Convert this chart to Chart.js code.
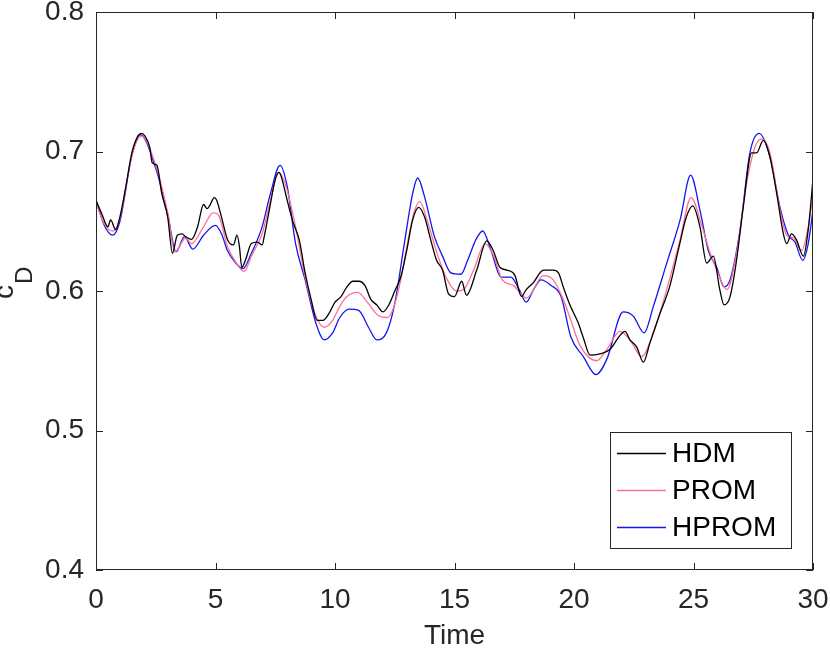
<!DOCTYPE html>
<html>
<head>
<meta charset="utf-8">
<script src="https://cdn.jsdelivr.net/npm/chart.js@4/dist/chart.umd.min.js"></script>
<style>
html,body{margin:0;padding:0;background:#fff;}
#wrap{width:830px;height:650px;position:relative;}
</style>
</head>
<body>
<div id="wrap"><canvas id="c" width="830" height="650"></canvas></div>
<script>
// ---- data ----
const seriesNames = ['HDM', 'PROM', 'HPROM'];
const xTicks = [0, 5, 10, 15, 20, 25, 30];
const yTicks = [0.4, 0.5, 0.6, 0.7, 0.8];

const hdmT = [0,0.25,0.5,0.61,0.82,1.0,1.25,1.5,1.75,1.9,2.05,2.25,2.35,2.55,2.75,3.0,3.2,3.4,3.6,3.75,4.0,4.25,4.5,4.65,4.75,4.95,5.05,5.25,5.5,5.75,5.9,6.0,6.1,6.25,6.5,6.75,6.95,7.05,7.25,7.5,7.65,7.75,8.0,8.25,8.5,8.75,9.0,9.25,9.5,9.75,10.0,10.25,10.5,10.75,11.0,11.25,11.5,11.75,12.0,12.25,12.5,12.75,13.0,13.25,13.5,13.75,14.0,14.25,14.5,14.75,15.0,15.3,15.5,15.93,16.35,16.62,16.9,17.18,17.53,17.8,18.0,18.3,18.72,19.13,19.35,19.55,19.83,20.18,20.4,20.67,21.09,21.5,21.92,22.13,22.34,22.62,22.9,23.18,23.6,24.0,24.4,24.7,24.97,25.27,25.55,25.83,26.1,26.28,26.53,26.8,27.08,27.43,27.64,27.92,28.2,28.48,28.76,28.9,29.1,29.3,29.6,29.8,30.0];
const hdmV = [0.665,0.655,0.646,0.651,0.644,0.653,0.675,0.699,0.711,0.713,0.711,0.703,0.692,0.690,0.670,0.653,0.627,0.640,0.641,0.639,0.637,0.646,0.662,0.659,0.661,0.667,0.665,0.653,0.637,0.633,0.640,0.632,0.617,0.622,0.634,0.635,0.633,0.640,0.658,0.680,0.685,0.682,0.665,0.649,0.637,0.613,0.594,0.579,0.579,0.584,0.592,0.596,0.603,0.607,0.607,0.604,0.594,0.590,0.585,0.590,0.600,0.610,0.629,0.651,0.660,0.653,0.637,0.622,0.615,0.598,0.596,0.607,0.597,0.615,0.636,0.629,0.617,0.615,0.611,0.596,0.601,0.606,0.615,0.615,0.613,0.603,0.590,0.577,0.566,0.554,0.555,0.558,0.568,0.571,0.565,0.560,0.549,0.563,0.584,0.603,0.632,0.653,0.661,0.646,0.620,0.625,0.601,0.590,0.596,0.622,0.660,0.699,0.699,0.708,0.696,0.670,0.641,0.634,0.641,0.637,0.625,0.644,0.680];

const promT = [0,0.35,0.7,1.0,1.5,1.9,2.5,3.0,3.3,3.75,4.0,4.5,4.9,5.1,5.5,5.8,6.2,6.5,6.95,7.3,7.65,7.95,8.35,8.75,9.2,9.55,9.9,10.2,10.5,10.95,11.35,11.77,12.2,12.47,12.75,13.03,13.3,13.55,13.85,14.27,14.7,15.1,15.38,15.8,16.28,16.62,17.0,17.46,18.02,18.72,19.13,19.55,19.83,20.25,20.95,21.37,21.92,22.34,22.83,23.32,23.88,24.44,24.9,25.36,25.7,25.97,26.4,26.8,27.2,27.57,27.85,28.2,28.62,28.9,29.18,29.53,29.8,30.0];
const promV = [0.663,0.648,0.643,0.652,0.697,0.711,0.690,0.656,0.628,0.638,0.634,0.646,0.656,0.655,0.632,0.622,0.614,0.625,0.641,0.665,0.685,0.675,0.646,0.610,0.582,0.574,0.579,0.589,0.596,0.599,0.592,0.583,0.581,0.589,0.608,0.634,0.656,0.664,0.651,0.627,0.608,0.600,0.601,0.615,0.634,0.626,0.608,0.604,0.595,0.611,0.608,0.594,0.581,0.561,0.550,0.558,0.571,0.565,0.553,0.570,0.601,0.637,0.667,0.646,0.627,0.615,0.601,0.627,0.675,0.703,0.709,0.699,0.658,0.640,0.638,0.629,0.646,0.668];

const hpromT = [0,0.35,0.7,1.0,1.5,1.85,2.5,3.0,3.35,3.7,4.05,4.5,5.0,5.25,5.5,5.8,6.15,6.5,6.95,7.3,7.7,8.0,8.35,8.75,9.2,9.55,9.9,10.2,10.6,11.0,11.4,11.75,12.15,12.5,12.9,13.25,13.46,13.74,14.16,14.5,14.85,15.27,15.55,15.9,16.18,16.53,16.95,17.36,17.71,18.0,18.34,18.62,19.04,19.46,19.87,20.39,20.92,21.37,22.06,22.48,22.93,23.32,23.88,24.44,24.88,25.27,25.62,25.97,26.28,26.53,26.95,27.36,27.75,28.2,28.62,28.97,29.25,29.57,29.8,30.0];
const hpromV = [0.665,0.647,0.640,0.650,0.697,0.712,0.688,0.655,0.628,0.639,0.630,0.640,0.647,0.641,0.629,0.621,0.616,0.627,0.646,0.670,0.690,0.675,0.634,0.608,0.577,0.565,0.570,0.581,0.587,0.586,0.574,0.565,0.570,0.591,0.634,0.670,0.681,0.668,0.639,0.625,0.613,0.612,0.622,0.637,0.643,0.629,0.610,0.610,0.601,0.592,0.602,0.608,0.604,0.596,0.567,0.553,0.540,0.551,0.585,0.582,0.570,0.589,0.620,0.651,0.683,0.658,0.629,0.617,0.603,0.608,0.644,0.699,0.713,0.696,0.660,0.640,0.635,0.622,0.634,0.658];

const seriesColors = ['#000000', '#ff6f93', '#1414f0'];

function pts(t, v) { return t.map((x, i) => ({x: x, y: v[i]})); }

const AXIS = '#262626';
const FONT = '"Liberation Sans", Arial, Helvetica, sans-serif';

const framePlugin = {
  id: 'frame',
  afterDatasetsDraw(chart) {
    const {ctx, chartArea: a, scales} = chart;
    ctx.save();
    ctx.strokeStyle = AXIS;
    ctx.lineWidth = 1;
    ctx.strokeRect(Math.round(a.left) + 0.5, Math.round(a.top) + 0.5,
                   Math.round(a.right - a.left) - 1, Math.round(a.bottom - a.top) - 1);
    const tl = 7;
    ctx.beginPath();
    xTicks.forEach(v => {
      const px = Math.round(scales.x.getPixelForValue(v)) + 0.5;
      ctx.moveTo(px, a.bottom); ctx.lineTo(px, a.bottom - tl);
      ctx.moveTo(px, a.top); ctx.lineTo(px, a.top + tl);
    });
    yTicks.forEach(v => {
      const py = Math.round(scales.y.getPixelForValue(v)) + 0.5;
      ctx.moveTo(a.left, py); ctx.lineTo(a.left + tl, py);
      ctx.moveTo(a.right, py); ctx.lineTo(a.right - tl, py);
    });
    ctx.stroke();

    // legend
    const lx = 610, ly = 432, lw = 181, lh = 116;
    ctx.fillStyle = '#ffffff';
    ctx.fillRect(lx, ly, lw, lh);
    ctx.strokeStyle = AXIS;
    ctx.lineWidth = 1;
    ctx.strokeRect(lx + 0.5, ly + 0.5, lw, lh);
    ctx.font = '28px ' + FONT;
    ctx.textBaseline = 'middle';
    ctx.textAlign = 'left';
    chart.data.datasets.forEach((ds, i) => {
      const yy = 453.5 + i * 37;
      ctx.strokeStyle = ds.borderColor;
      ctx.lineWidth = 1.3;
      ctx.beginPath();
      ctx.moveTo(617, yy); ctx.lineTo(666, yy);
      ctx.stroke();
      ctx.fillStyle = '#000000';
      ctx.fillText(ds.label, 672, yy + 1);
    });

    // y-axis title c_D
    ctx.fillStyle = AXIS;
    ctx.save();
    ctx.translate(13, 299);
    ctx.rotate(-Math.PI / 2);
    ctx.textBaseline = 'alphabetic';
    ctx.textAlign = 'left';
    ctx.font = '28px ' + FONT;
    ctx.fillText('c', 0, 0);
    ctx.font = '24px ' + FONT;
    ctx.fillText('D', 15, 19);
    ctx.restore();
    ctx.restore();
  }
};

new Chart(document.getElementById('c'), {
  type: 'line',
  data: {
    datasets: [
      {label: seriesNames[0], data: pts(hdmT, hdmV), borderColor: seriesColors[0]},
      {label: seriesNames[1], data: pts(promT, promV), borderColor: seriesColors[1]},
      {label: seriesNames[2], data: pts(hpromT, hpromV), borderColor: seriesColors[2]}
    ].map(d => Object.assign(d, {borderWidth: 1.3, pointRadius: 0, fill: false, cubicInterpolationMode: 'monotone'}))
  },
  options: {
    responsive: false,
    animation: false,
    devicePixelRatio: 1,
    layout: {padding: {left: 0, right: 17, top: 12, bottom: 0}},
    plugins: {legend: {display: false}, tooltip: {enabled: false}},
    scales: {
      x: {
        type: 'linear', min: 0, max: 30,
        grid: {display: false, drawTicks: false, tickLength: 0}, border: {display: false},
        afterBuildTicks: s => { s.ticks = xTicks.map(v => ({value: v})); },
        afterFit: s => { s.height = 80; s.paddingLeft = 0; s.paddingRight = 0; },
        ticks: {color: AXIS, font: {size: 28, family: FONT}, padding: 13, maxRotation: 0,
                callback: v => String(v)},
        title: {display: true, text: 'Time', color: AXIS, font: {size: 28, family: FONT, lineHeight: 1}, padding: {top: 0, bottom: 0}}
      },
      y: {
        type: 'linear', min: 0.4, max: 0.8,
        grid: {display: false, drawTicks: false, tickLength: 0}, border: {display: false},
        afterBuildTicks: s => { s.ticks = yTicks.map(v => ({value: v})); },
        afterFit: s => { s.width = 96; s.paddingTop = 0; s.paddingBottom = 0; },
        ticks: {color: AXIS, font: {size: 28, family: FONT}, padding: 12,
                callback: v => v.toFixed(1)}
      }
    }
  },
  plugins: [framePlugin]
});
</script>
</body>
</html>
